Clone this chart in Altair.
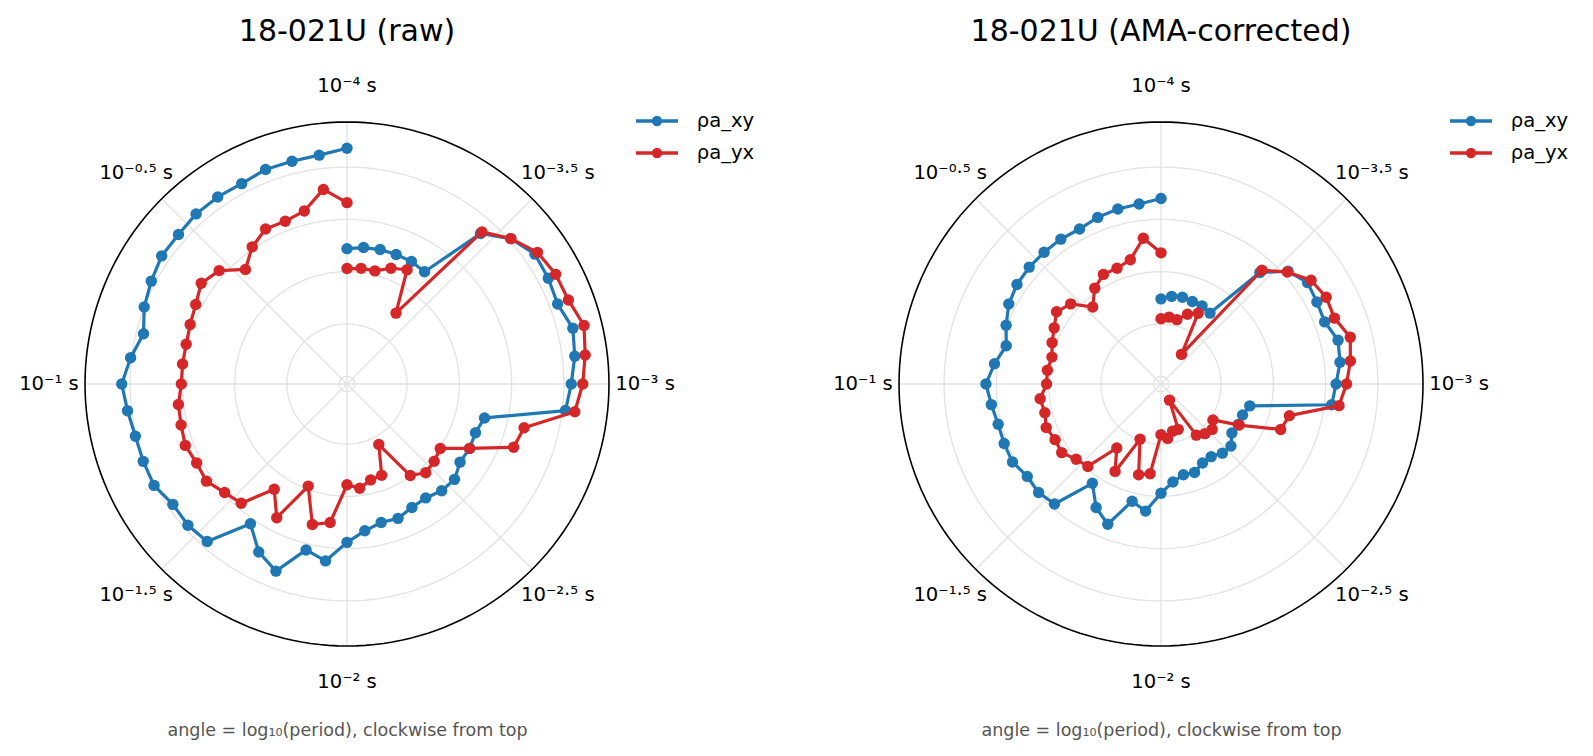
import altair as alt
import pandas as pd

# ---- data ----
log10_period = [
    -4.000, -3.923, -3.846, -3.769, -3.692, -3.615, -3.538, -3.462, -3.385, -3.308, -3.231, -3.154, -3.077,
    -3.000, -2.923, -2.846, -2.769, -2.692, -2.615, -2.538, -2.462, -2.385, -2.308, -2.231, -2.154, -2.077,
    -2.000, -1.923, -1.846, -1.769, -1.692, -1.615, -1.538, -1.462, -1.385, -1.308, -1.231, -1.154, -1.077,
    -1.000, -0.923, -0.846, -0.769, -0.692, -0.615, -0.538, -0.462, -0.385, -0.308, -0.231, -0.154, -0.077,
    0.000,
]

# radial value (log10 apparent resistivity)
raw_xy = [
    1.72, 1.74, 1.75, 1.75, 1.75, 1.73, 2.35, 2.52, 2.61, 2.60, 2.58, 2.65, 2.62,
    2.57, 2.53, 1.78, 1.74, 1.75, 1.74, 1.80, 1.79, 1.75, 1.76, 1.80, 1.79, 1.84,
    1.94, 2.13, 2.06, 2.34, 2.24, 2.05, 2.44, 2.46, 2.45, 2.51, 2.51, 2.51, 2.54,
    2.58, 2.51, 2.43, 2.50, 2.54, 2.58, 2.58, 2.60, 2.60, 2.59, 2.62, 2.62, 2.63,
    2.68,
]
raw_yx = [
    1.53, 1.54, 1.54, 1.61, 1.66, 1.25, 2.37, 2.52, 2.64, 2.68, 2.69, 2.76, 2.72,
    2.68, 2.62, 2.17, 2.13, 1.75, 1.51, 1.54, 1.56, 1.49, 1.08, 1.36, 1.37, 1.43,
    1.39, 1.76, 1.81, 1.47, 1.87, 1.65, 1.95, 1.99, 2.06, 2.05, 2.08, 2.06, 2.05,
    2.01, 2.01, 2.01, 2.03, 2.06, 2.12, 2.06, 1.89, 2.02, 2.10, 2.09, 2.13, 2.30,
    2.16,
]
ama_xy = [
    1.24, 1.27, 1.28, 1.27, 1.27, 1.25, 1.85, 2.05, 2.13, 2.11, 2.10, 2.17, 2.15,
    2.10, 2.07, 1.30, 1.26, 1.26, 1.25, 1.32, 1.31, 1.27, 1.28, 1.33, 1.32, 1.37,
    1.47, 1.65, 1.58, 1.86, 1.76, 1.58, 1.96, 1.99, 1.98, 2.03, 2.03, 2.03, 2.06,
    2.10, 2.03, 1.95, 2.01, 2.07, 2.10, 2.11, 2.11, 2.11, 2.10, 2.13, 2.15, 2.16,
    2.20,
]
ama_yx = [
    1.05, 1.07, 1.06, 1.14, 1.19, 0.77, 1.88, 2.04, 2.17, 2.21, 2.20, 2.29, 2.25,
    2.20, 2.14, 1.69, 1.65, 1.27, 1.03, 1.08, 1.06, 1.02, 0.60, 0.89, 0.89, 0.95,
    0.91, 1.29, 1.32, 0.99, 1.37, 1.17, 1.48, 1.51, 1.58, 1.57, 1.60, 1.57, 1.59,
    1.52, 1.52, 1.50, 1.54, 1.58, 1.64, 1.58, 1.41, 1.54, 1.61, 1.61, 1.65, 1.83,
    1.68,
]

series_names = ["ρa_xy", "ρa_yx"]
series_colors = ["#1f77b4", "#d62728"]
panel_titles = ["18-021U (raw)", "18-021U (AMA-corrected)"]
footnote = "angle = log₁₀(period), clockwise from top"

tick_log = [-4, -3.5, -3, -2.5, -2, -1.5, -1, -0.5]
tick_text = ["10⁻⁴ s", "10⁻³·⁵ s", "10⁻³ s", "10⁻²·⁵ s", "10⁻² s", "10⁻¹·⁵ s", "10⁻¹ s", "10⁻⁰·⁵ s"]
r_ticks = [0.5, 1.0, 1.5, 2.0, 2.5]

R_MIN = 0.426   # radial value at the centre
R_MAX = 2.931   # radial value at the outer circle
D = R_MAX - R_MIN
LABEL_R = 2.85  # distance of the angle labels from the centre (radial units)

FONT = "DejaVu Sans"
PANEL = 524

pos_scale = alt.Scale(domain=[-D, D], nice=False, zero=False)
x_axis = alt.Axis(title=footnote, labels=False, ticks=False, domain=False, grid=False,
                  titleFontSize=17.5, titleColor="#555555", titleFont=FONT,
                  titleFontWeight="normal", titlePadding=75)
cscale = alt.Scale(domain=series_names, range=series_colors)

# line + marker legend glyph (unit square scaled by sqrt(symbolSize)/2)
LEG_PATH = ("M-2.1,0L2.1,0 "
            "M-0.35,0A0.35,0.35,0,1,1,0.35,0A0.35,0.35,0,1,1,-0.35,0 "
            "M-0.15,0A0.15,0.15,0,1,1,0.15,0A0.15,0.15,0,1,1,-0.15,0")


def xenc(f):
    return alt.X(f, type="quantitative", scale=pos_scale, axis=x_axis)


def yenc(f):
    return alt.Y(f, type="quantitative", scale=pos_scale, axis=None)


def circles(ticks, color, width):
    return (
        alt.Chart(pd.DataFrame({"tick": ticks}))
        .transform_calculate(deg="sequence(0, 362, 2)")
        .transform_flatten(["deg"])
        .transform_calculate(
            px=f"(datum.tick - {R_MIN}) * sin(datum.deg * PI / 180)",
            py=f"(datum.tick - {R_MIN}) * cos(datum.deg * PI / 180)",
        )
        .mark_line(color=color, strokeWidth=width)
        .encode(x=xenc("px"), y=yenc("py"), detail="tick:N", order="deg:Q")
    )


def panel(title, xy, yx):
    n = len(log10_period)
    df = pd.DataFrame({
        "idx": list(range(n)) * 2,
        "logT": log10_period * 2,
        "rho": xy + yx,
        "series": [series_names[0]] * n + [series_names[1]] * n,
    })
    base = alt.Chart(df).transform_calculate(
        th="(datum.logT + 4) * PI / 2",
    ).transform_calculate(
        px=f"(datum.rho - {R_MIN}) * sin(datum.th)",
        py=f"(datum.rho - {R_MIN}) * cos(datum.th)",
    )

    grid = circles(r_ticks, "#e2e2e2", 1.3)
    outer = circles([R_MAX], "black", 1.6)

    spokes = (
        alt.Chart(pd.DataFrame({"a": tick_log}))
        .transform_calculate(th="(datum.a + 4) * PI / 2")
        .transform_calculate(x0="0", y0="0",
                             x1=f"{D} * sin(datum.th)", y1=f"{D} * cos(datum.th)")
        .mark_rule(color="#e2e2e2", strokeWidth=1.3)
        .encode(x=xenc("x0"), y=yenc("y0"), x2="x1:Q", y2="y1:Q")
    )

    labels = (
        alt.Chart(pd.DataFrame({"a": tick_log, "label": tick_text}))
        .transform_calculate(th="(datum.a + 4) * PI / 2")
        .transform_calculate(lx=f"{LABEL_R} * sin(datum.th)", ly=f"{LABEL_R} * cos(datum.th)")
        .mark_text(font=FONT, fontSize=19.6, align="center", baseline="middle", color="black")
        .encode(x=xenc("lx"), y=yenc("ly"), text="label:N")
    )

    legend = alt.Legend(
        title=None, orient="none", legendX=560, legendY=-13,
        symbolType=LEG_PATH, symbolSize=400, symbolStrokeWidth=3.3, symbolOpacity=1,
        labelFont=FONT, labelFontSize=19.6, labelColor="black", labelOffset=27.7,
        rowPadding=9,
    )

    layers = [grid, spokes, outer, labels]
    for s in series_names:
        sub = base.transform_filter(alt.datum.series == s)
        line = sub.mark_line(strokeWidth=3.2, strokeJoin="round").encode(
            x=xenc("px"), y=yenc("py"), order="idx:Q",
            color=alt.Color("series:N", scale=cscale, legend=legend),
        )
        pts = sub.mark_point(filled=True, size=130, opacity=1).encode(
            x=xenc("px"), y=yenc("py"),
            color=alt.Color("series:N", scale=cscale, legend=legend),
        )
        layers += [line, pts]

    return alt.layer(*layers).properties(
        width=PANEL, height=PANEL,
        title=alt.TitleParams(title, font=FONT, fontSize=30, fontWeight="normal",
                              color="black", anchor="middle", baseline="alphabetic",
                              offset=5),
    )


chart = (
    alt.hconcat(
        panel(panel_titles[0], raw_xy, raw_yx),
        panel(panel_titles[1], ama_xy, ama_yx),
        spacing=290, bounds="flush",
    )
    .resolve_scale(color="independent")
    .resolve_legend(color="independent")
    .configure_view(stroke=None)
    .properties(padding={"left": 11, "top": 8, "right": 5, "bottom": 5}, background="white")
)

chart.save("out.html", embed_options={"renderer": "svg", "actions": False})
